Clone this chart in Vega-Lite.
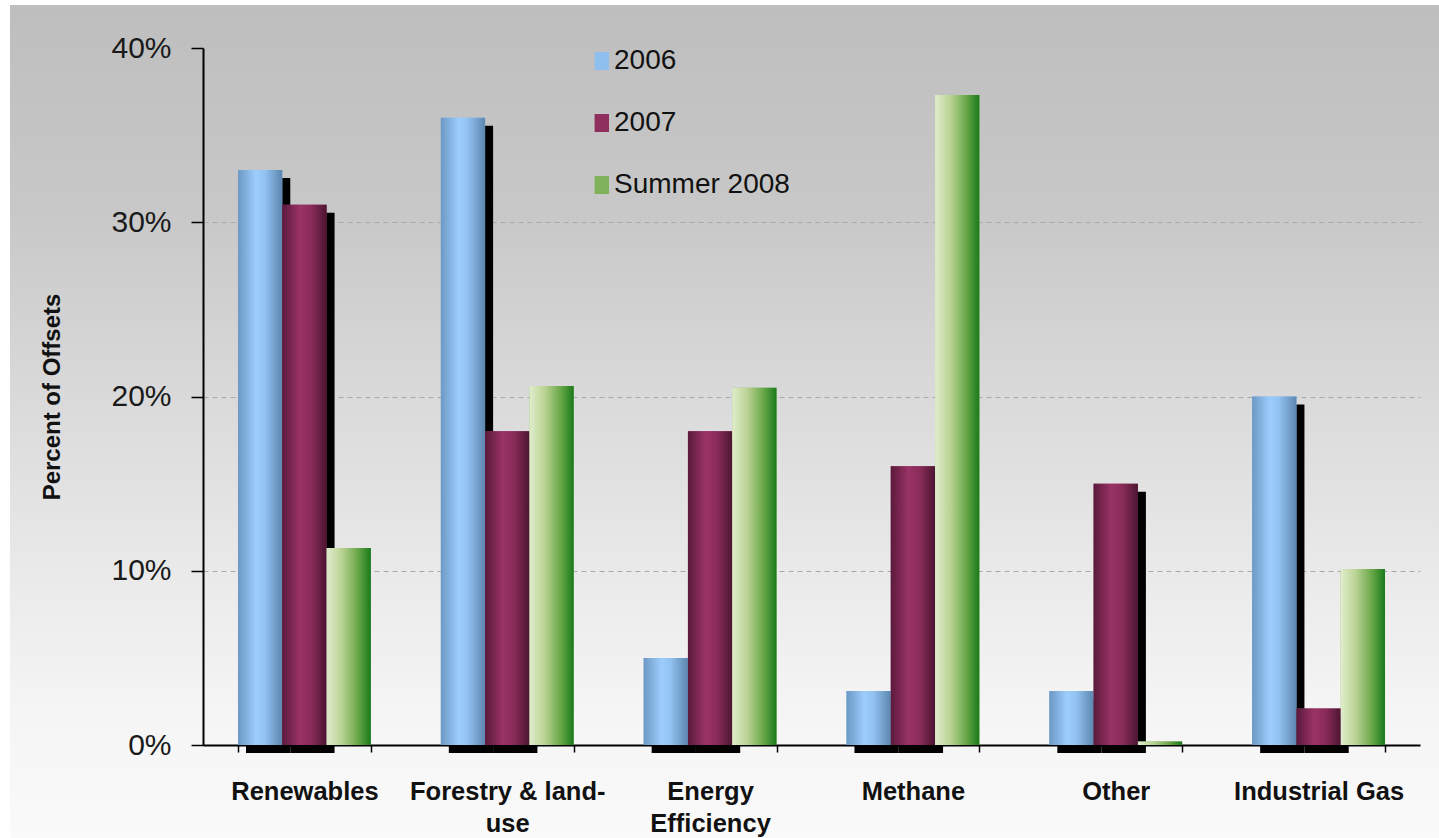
{
  "$schema": "https://vega.github.io/schema/vega-lite/v6.json",
  "autosize": {"type": "none"},
  "width": 1429,
  "height": 833,
  "padding": {"left": 10, "top": 5, "right": 0, "bottom": 0},
  "background": "#ffffff",
  "config": {
    "view": {
      "stroke": null,
      "fill": {
        "gradient": "linear",
        "x1": 0, "y1": 0, "x2": 0, "y2": 1,
        "stops": [
          {"offset": 0, "color": "#bebebe"},
          {"offset": 0.25, "color": "#c8c8c8"},
          {"offset": 0.45, "color": "#d8d8d8"},
          {"offset": 0.7, "color": "#ebebeb"},
          {"offset": 0.85, "color": "#f5f5f5"},
          {"offset": 1, "color": "#fafafa"}
        ]
      }
    },
    "font": "Liberation Sans"
  },
  "data": {
    "values": [
      {"category": "Renewables", "series": "2006", "value": 0.33},
      {"category": "Renewables", "series": "2007", "value": 0.31},
      {"category": "Renewables", "series": "Summer 2008", "value": 0.113},
      {"category": "Forestry & land-use", "series": "2006", "value": 0.36},
      {"category": "Forestry & land-use", "series": "2007", "value": 0.18},
      {"category": "Forestry & land-use", "series": "Summer 2008", "value": 0.206},
      {"category": "Energy Efficiency", "series": "2006", "value": 0.05},
      {"category": "Energy Efficiency", "series": "2007", "value": 0.18},
      {"category": "Energy Efficiency", "series": "Summer 2008", "value": 0.205},
      {"category": "Methane", "series": "2006", "value": 0.031},
      {"category": "Methane", "series": "2007", "value": 0.16},
      {"category": "Methane", "series": "Summer 2008", "value": 0.373},
      {"category": "Other", "series": "2006", "value": 0.031},
      {"category": "Other", "series": "2007", "value": 0.15},
      {"category": "Other", "series": "Summer 2008", "value": 0.002},
      {"category": "Industrial Gas", "series": "2006", "value": 0.2},
      {"category": "Industrial Gas", "series": "2007", "value": 0.021},
      {"category": "Industrial Gas", "series": "Summer 2008", "value": 0.101}
    ]
  },
  "resolve": {"scale": {"xOffset": "independent"}},
  "encoding": {
    "x": {
      "field": "category",
      "type": "nominal",
      "sort": null,
      "scale": {"type": "band", "range": [193, 1410], "paddingInner": 0.345, "paddingOuter": 0.1725},
      "axis": {
        "orient": "bottom",
        "offset": -93,
        "title": null,
        "labelAngle": 0,
        "labelFont": "Liberation Sans",
        "labelFontSize": 25.5,
        "labelFontWeight": "bold",
        "labelColor": "#111111",
        "labelPadding": 27,
        "labelLineHeight": 32,
        "labelLimit": 0,
        "labelExpr": "datum.value == 'Forestry & land-use' ? ['Forestry & land-', 'use'] : datum.value == 'Energy Efficiency' ? ['Energy', 'Efficiency'] : datum.value",
        "domainColor": "#000000",
        "domainWidth": 2,
        "tickColor": "#000000",
        "tickWidth": 1.5,
        "tickSize": 7,
        "tickBand": "extent",
        "grid": false
      }
    },
    "xOffset": {
      "field": "series",
      "type": "nominal",
      "scale": {"domain": ["2006", "2007", "Summer 2008"], "paddingInner": 0, "paddingOuter": 0}
    },
    "y": {
      "field": "value",
      "type": "quantitative",
      "scale": {"domain": [0, 0.4], "range": [740, 43], "nice": false},
      "axis": {
        "offset": -193,
        "values": [0, 0.1, 0.2, 0.3, 0.4],
        "format": ".0%",
        "title": "Percent of Offsets",
        "titleFont": "Liberation Sans",
        "titleFontSize": 24,
        "titleFontWeight": "bold",
        "titleColor": "#111111",
        "titlePadding": 46,
        "labelFont": "Liberation Sans",
        "labelFontSize": 30,
        "labelColor": "#1a1a1a",
        "labelPadding": 20,
        "domainColor": "#000000",
        "domainWidth": 2,
        "tickColor": "#000000",
        "tickWidth": 1.5,
        "tickSize": 12,
        "grid": true,
        "gridColor": "#a9a9a9",
        "gridDash": [5, 4],
        "gridWidth": 1,
        "gridOpacity": {"condition": {"test": "datum.value == 0 || datum.value >= 0.4", "value": 0}, "value": 1}
      }
    }
  },
  "layer": [
    {
      "transform": [{"filter": "datum.series != 'Summer 2008'"}],
      "mark": {"type": "bar", "color": "#000000", "yOffset": 8, "y2Offset": 3},
      "encoding": {
        "xOffset": {
          "field": "series",
          "type": "nominal",
          "scale": {"domain": ["2006", "2007", "Summer 2008"], "range": [8, 140.856], "paddingInner": 0, "paddingOuter": 0}
        }
      }
    },
    {
      "mark": {"type": "bar"},
      "encoding": {
        "color": {
          "field": "series",
          "type": "nominal",
          "scale": {
            "domain": ["2006", "2007", "Summer 2008"],
            "range": ["#8fbfef", "#8e2f5e", "#7fb25a"]
          },
          "legend": {
            "orient": "none",
            "legendX": 576,
            "legendY": 42,
            "title": null,
            "direction": "vertical",
            "symbolType": "M-0.6,-1H1V1H-0.6Z",
            "symbolSize": 324,
            "symbolStrokeWidth": 0,
            "labelFont": "Liberation Sans",
            "labelFontSize": 28,
            "labelColor": "#111111",
            "labelOffset": 0,
            "labelLimit": 0,
            "rowPadding": 34
          }
        }
      }
    },
    {
      "transform": [{"filter": "datum.series == '2006'"}],
      "mark": {"type": "bar", "color": {"gradient": "linear", "x1": 0, "y1": 0, "x2": 1, "y2": 0, "stops": [
        {"offset": 0, "color": "#6c98c4"},
        {"offset": 0.4, "color": "#9dcdfd"},
        {"offset": 0.6, "color": "#93c3f3"},
        {"offset": 1, "color": "#5d86ae"}
      ]}},
      "encoding": {}
    },
    {
      "transform": [{"filter": "datum.series == '2007'"}],
      "mark": {"type": "bar", "color": {"gradient": "linear", "x1": 0, "y1": 0, "x2": 1, "y2": 0, "stops": [
        {"offset": 0, "color": "#5a1a3b"},
        {"offset": 0.4, "color": "#9a3366"},
        {"offset": 0.65, "color": "#8a2c5a"},
        {"offset": 1, "color": "#4c1530"}
      ]}},
      "encoding": {}
    },
    {
      "transform": [{"filter": "datum.series == 'Summer 2008'"}],
      "mark": {"type": "bar", "color": {"gradient": "linear", "x1": 0, "y1": 0, "x2": 1, "y2": 0, "stops": [
        {"offset": 0, "color": "#e0edcd"},
        {"offset": 0.35, "color": "#b9d292"},
        {"offset": 0.7, "color": "#6aa84a"},
        {"offset": 1, "color": "#1a7a1a"}
      ]}},
      "encoding": {}
    }
  ]
}
